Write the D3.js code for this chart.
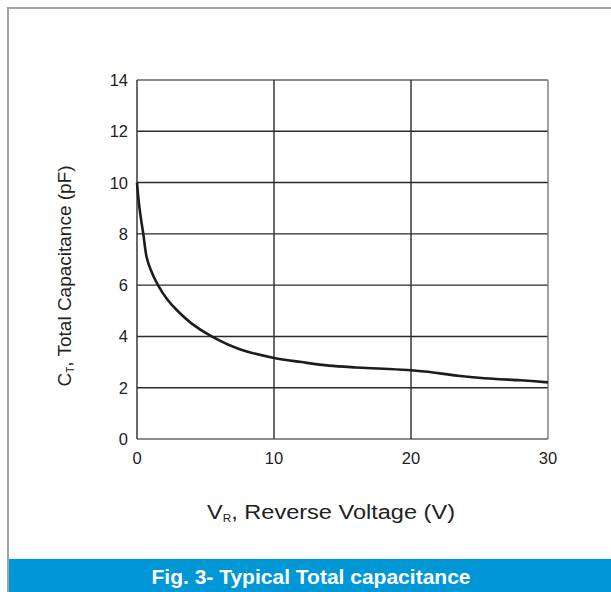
<!DOCTYPE html>
<html>
<head>
<meta charset="utf-8">
<script src="https://cdn.jsdelivr.net/npm/d3@7"></script>
<style>
  body { margin: 0; background: #fff; }
  svg text { font-family: "Liberation Sans", Arial, sans-serif; fill: #222; }
</style>
</head>
<body>
<div id="chart"></div>
<script>
// reverse voltage (V) vs total capacitance (pF)
var voltage = [0, 0.14, 0.3, 0.46, 0.7, 1.0, 1.53, 2.2, 2.9, 4, 5.45, 7.5, 10, 12, 14, 16, 18, 20, 21.2, 23.6, 26, 28, 30];
var capacitance = [10, 9.2, 8.55, 8.0, 7.1, 6.6, 6.0, 5.45, 5.03, 4.5, 4.0, 3.5, 3.16, 3.0, 2.86, 2.79, 2.74, 2.68, 2.62, 2.46, 2.35, 2.29, 2.21];
var xTicks = [0, 10, 20, 30];
var yTicks = [0, 2, 4, 6, 8, 10, 12, 14];

var W = 611, H = 592;
var svg = d3.select("#chart").append("svg")
    .attr("width", W)
    .attr("height", H);

// outer frame
svg.append("path")
    .attr("d", "M8," + H + "V8H" + W)
    .attr("fill", "none")
    .attr("stroke", "#a3a3a3")
    .attr("stroke-width", 2);

var x = d3.scaleLinear().domain([0, 30]).range([137, 548]);
var y = d3.scaleLinear().domain([0, 14]).range([439, 80]);

// grid
var grid = svg.append("g");
grid.selectAll(".gy")
    .data(yTicks)
    .enter()
    .append("line")
    .attr("x1", x(0))
    .attr("x2", x(30))
    .attr("y1", d => y(d))
    .attr("y2", d => y(d))
    .attr("stroke", d => (d == 0 || d == 14) ? "#666" : "#2a2a2a")
    .attr("stroke-width", 1.4);

grid.selectAll(".gx")
    .data(xTicks)
    .enter()
    .append("line")
    .attr("y1", y(0))
    .attr("y2", y(14))
    .attr("x1", d => x(d))
    .attr("x2", d => x(d))
    .attr("stroke", d => (d == 30) ? "#777" : "#2a2a2a")
    .attr("stroke-width", 1.4);

// tick labels
svg.selectAll(".ty")
    .data(yTicks)
    .enter()
    .append("text")
    .attr("x", 128)
    .attr("y", d => y(d) + 6)
    .attr("text-anchor", "end")
    .attr("font-size", "16.5px")
    .text(d => d);

svg.selectAll(".tx")
    .data(xTicks)
    .enter()
    .append("text")
    .attr("x", d => x(d))
    .attr("y", 464)
    .attr("text-anchor", "middle")
    .attr("font-size", "16.5px")
    .text(d => d);

// curve
var line = d3.line()
    .x((d, i) => x(voltage[i]))
    .y(d => y(d))
    .curve(d3.curveCatmullRom.alpha(0.5));

svg.append("path")
    .datum(capacitance)
    .attr("d", line)
    .attr("fill", "none")
    .attr("stroke", "#1c1c1c")
    .attr("stroke-width", 2.6);

// axis titles
var xt = svg.append("text")
    .attr("x", 331)
    .attr("y", 519)
    .attr("text-anchor", "middle")
    .attr("font-size", "20px")
    .attr("textLength", 248)
    .attr("lengthAdjust", "spacingAndGlyphs");
xt.append("tspan").text("V");
xt.append("tspan").attr("font-size", "10px").attr("dy", 3).text("R");
xt.append("tspan").attr("dy", -3).text(", Reverse Voltage (V)");

var yt = svg.append("text")
    .attr("transform", "translate(71,276) rotate(-90)")
    .attr("text-anchor", "middle")
    .attr("font-size", "19px");
yt.append("tspan").text("C");
yt.append("tspan").attr("font-size", "10px").attr("dy", 3).text("T");
yt.append("tspan").attr("dy", -3).text(", Total Capacitance (pF)");

// caption bar
svg.append("rect")
    .attr("x", 9)
    .attr("y", 559)
    .attr("width", W - 9)
    .attr("height", H - 559)
    .attr("fill", "#0097d7");

svg.append("text")
    .attr("x", 311)
    .attr("y", 584)
    .attr("text-anchor", "middle")
    .attr("font-size", "21px")
    .attr("font-weight", "bold")
    .attr("textLength", 319)
    .attr("lengthAdjust", "spacingAndGlyphs")
    .style("fill", "#fff")
    .text("Fig. 3- Typical Total capacitance");
</script>
</body>
</html>
